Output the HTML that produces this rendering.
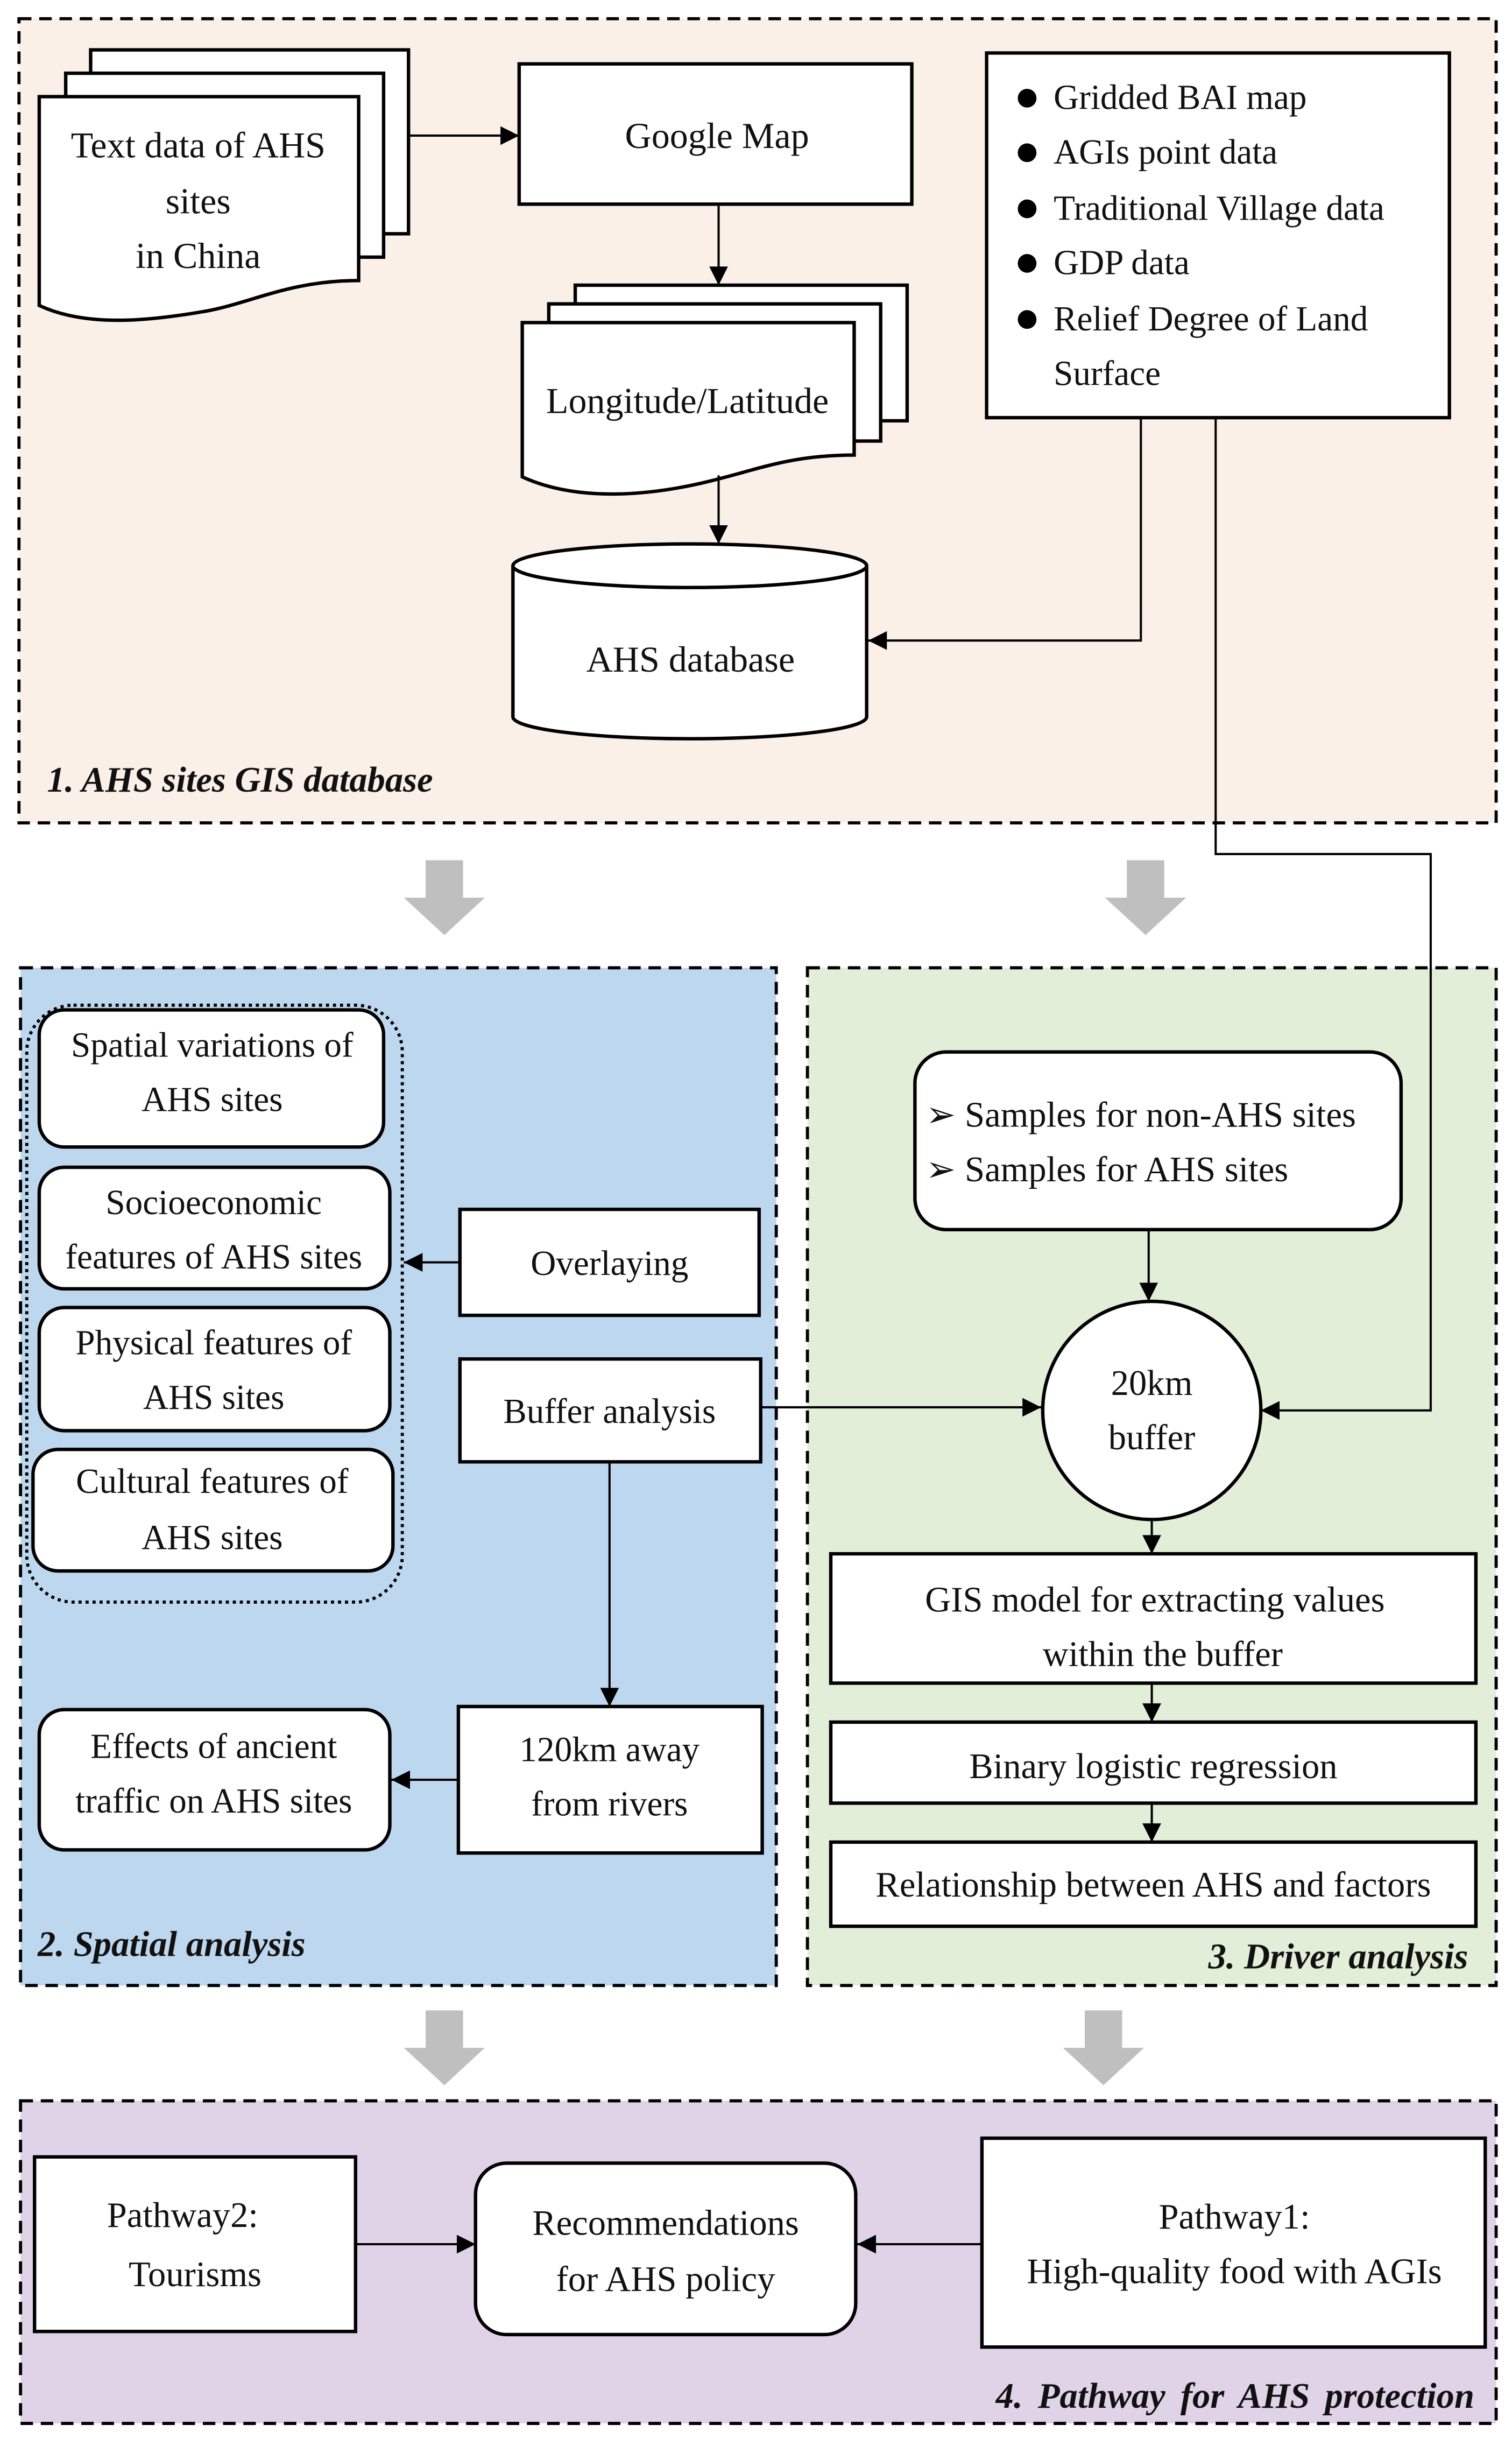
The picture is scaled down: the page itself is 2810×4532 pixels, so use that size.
<!DOCTYPE html>
<html><head><meta charset="utf-8"><style>
html,body{margin:0;padding:0;background:#fff}
svg{display:block}
text{font-family:"Liberation Serif",serif;fill:#111}
</style></head><body>
<svg width="2810" height="4532" viewBox="0 0 970 1565" xmlns="http://www.w3.org/2000/svg">
<defs>
<marker id="a" viewBox="0 0 10 10" refX="10" refY="5" markerWidth="12" markerHeight="12" markerUnits="userSpaceOnUse" orient="auto"><path d="M0,0L10,5L0,10Z" fill="#000"/></marker>
</defs>
<rect x="12" y="12" width="948" height="516" fill="#fbf0e8" stroke="#000" stroke-width="2" stroke-dasharray="8,5"/>
<rect x="13" y="621" width="485" height="653" fill="#bdd7ee" stroke="#000" stroke-width="2" stroke-dasharray="8,5"/>
<rect x="518" y="621" width="442" height="653" fill="#e2eed8" stroke="#000" stroke-width="2" stroke-dasharray="8,5"/>
<rect x="13" y="1348" width="947" height="207" fill="#e0d3e8" stroke="#000" stroke-width="2" stroke-dasharray="8,5"/>

<g fill="#bfbfbf">
<path d="M273,552h24v24h14l-26,24l-26,-24h14z"/>
<path d="M723,552h24v24h14l-26,24l-26,-24h14z"/>
<path d="M273,1290h24v24h14l-26,24l-26,-24h14z"/>
<path d="M696,1290h24v24h14l-26,24l-26,-24h14z"/>
</g>

<g stroke="#000" stroke-width="2.2" fill="#fff">
<rect x="58" y="32" width="204" height="118"/>
<rect x="42" y="47" width="204" height="118"/>
<path d="M25,62H230V180C185,180 160,195 130,200C95,206 55,210 25,196Z"/>
<rect x="369" y="183" width="213" height="87"/>
<rect x="352" y="195" width="213" height="88"/>
<path d="M335,207H548V292C505,292 485,302 450,310C415,318 370,322 335,306Z"/>
<rect x="333" y="41" width="252" height="90"/>
<rect x="633" y="34" width="297" height="234"/>
<path d="M329,363V460A113.5,14 0 0 0 556,460V363"/>
<ellipse cx="442.5" cy="363" rx="113.5" ry="14"/>
</g>
<g stroke="#000" stroke-width="1.4" fill="none">
<line x1="262" y1="87" x2="333" y2="87" marker-end="url(#a)"/>
<line x1="461" y1="131" x2="461" y2="183" marker-end="url(#a)"/>
<line x1="461" y1="305" x2="461" y2="349" marker-end="url(#a)"/>
<polyline points="732,268 732,411 557,411" marker-end="url(#a)"/>
<polyline points="780,268 780,548 918,548 918,905 809,905" marker-end="url(#a)"/>
</g>
<g font-size="23.5" text-anchor="middle">
<text x="127" y="101">Text data of AHS</text>
<text x="127" y="137">sites</text>
<text x="127" y="172">in China</text>
<text x="460" y="95">Google Map</text>
<text x="441" y="265">Longitude/Latitude</text>
<text x="443" y="431">AHS database</text>
</g>
<g font-size="22.5">
<circle cx="659" cy="63" r="6" fill="#000"/><text x="676" y="70">Gridded BAI map</text>
<circle cx="659" cy="98" r="6" fill="#000"/><text x="676" y="105">AGIs point data</text>
<circle cx="659" cy="134" r="6" fill="#000"/><text x="676" y="141">Traditional Village data</text>
<circle cx="659" cy="169" r="6" fill="#000"/><text x="676" y="176">GDP data</text>
<circle cx="659" cy="205" r="6" fill="#000"/><text x="676" y="212">Relief Degree of Land</text>
<text x="676" y="247">Surface</text>
</g>
<text x="30" y="508" font-size="23" font-weight="bold" font-style="italic">1. AHS sites GIS database</text>

<rect x="17" y="645" width="241" height="383" rx="30" fill="none" stroke="#000" stroke-width="2" stroke-dasharray="2,2.5"/>
<g stroke="#000" stroke-width="2.2" fill="#fff">
<rect x="25" y="648" width="221" height="88" rx="16"/>
<rect x="25" y="749" width="225" height="78" rx="16"/>
<rect x="25" y="839" width="225" height="79" rx="16"/>
<rect x="21" y="930" width="231" height="78" rx="16"/>
<rect x="25" y="1097" width="225" height="90" rx="16"/>
<rect x="295" y="776" width="192" height="68"/>
<rect x="295" y="872" width="193" height="66"/>
<rect x="294" y="1095" width="195" height="94"/>
</g>
<g stroke="#000" stroke-width="1.4" fill="none">
<line x1="295" y1="810" x2="259" y2="810" marker-end="url(#a)"/>
<line x1="488" y1="903" x2="668" y2="903" marker-end="url(#a)"/>
<line x1="391" y1="938" x2="391" y2="1095" marker-end="url(#a)"/>
<line x1="294" y1="1142" x2="251" y2="1142" marker-end="url(#a)"/>
</g>
<g font-size="22.5" text-anchor="middle">
<text x="136" y="678">Spatial variations of</text>
<text x="136" y="713">AHS sites</text>
<text x="137" y="779">Socioeconomic</text>
<text x="137" y="814">features of AHS sites</text>
<text x="137" y="869">Physical features of</text>
<text x="137" y="904">AHS sites</text>
<text x="136" y="958">Cultural features of</text>
<text x="136" y="994">AHS sites</text>
<text x="137" y="1128">Effects of ancient</text>
<text x="137" y="1163">traffic on AHS sites</text>
<text x="391" y="818">Overlaying</text>
<text x="391" y="913">Buffer analysis</text>
<text x="391" y="1130">120km away</text>
<text x="391" y="1165">from rivers</text>
</g>
<text x="24" y="1255" font-size="23" font-weight="bold" font-style="italic">2. Spatial analysis</text>

<g stroke="#000" stroke-width="2.2" fill="#fff">
<rect x="587" y="675" width="312" height="114" rx="20"/>
<circle cx="739" cy="905" r="70"/>
<rect x="533" y="997" width="414" height="83"/>
<rect x="533" y="1105" width="414" height="52"/>
<rect x="533" y="1182" width="414" height="54"/>
</g>
<g stroke="#000" stroke-width="1.4" fill="none">
<line x1="737" y1="789" x2="737" y2="835" marker-end="url(#a)"/>
<line x1="739" y1="975" x2="739" y2="997" marker-end="url(#a)"/>
<line x1="739" y1="1080" x2="739" y2="1105" marker-end="url(#a)"/>
<line x1="739" y1="1157" x2="739" y2="1182" marker-end="url(#a)"/>
</g>
<g font-size="23">
<text x="594" y="723">➢</text><text x="619" y="723">Samples for non-AHS sites</text>
<text x="594" y="758">➢</text><text x="619" y="758">Samples for AHS sites</text>
</g>
<g font-size="23" text-anchor="middle">
<text x="739" y="895">20km</text>
<text x="739" y="930">buffer</text>
<text x="741" y="1034">GIS model for extracting values</text>
<text x="746" y="1069">within the buffer</text>
<text x="740" y="1141">Binary logistic regression</text>
<text x="740" y="1217">Relationship between AHS and factors</text>
</g>
<text x="942" y="1263" font-size="23" font-weight="bold" font-style="italic" text-anchor="end">3. Driver analysis</text>

<g stroke="#000" stroke-width="2.2" fill="#fff">
<rect x="22" y="1384" width="206" height="112"/>
<rect x="305" y="1388" width="244" height="110" rx="20"/>
<rect x="630" y="1372" width="323" height="134"/>
</g>
<g stroke="#000" stroke-width="1.4" fill="none">
<line x1="228" y1="1440" x2="305" y2="1440" marker-end="url(#a)"/>
<line x1="630" y1="1440" x2="550" y2="1440" marker-end="url(#a)"/>
</g>
<g font-size="23" text-anchor="middle">
<text x="117" y="1429">Pathway2:</text>
<text x="125" y="1467">Tourisms</text>
<text x="427" y="1434">Recommendations</text>
<text x="427" y="1470">for AHS policy</text>
<text x="792" y="1430">Pathway1:</text>
<text x="792" y="1465">High-quality food with AGIs</text>
</g>
<text x="946" y="1545" font-size="23" font-weight="bold" font-style="italic" text-anchor="end" word-spacing="4">4. Pathway for AHS protection</text>
</svg>
</body></html>
